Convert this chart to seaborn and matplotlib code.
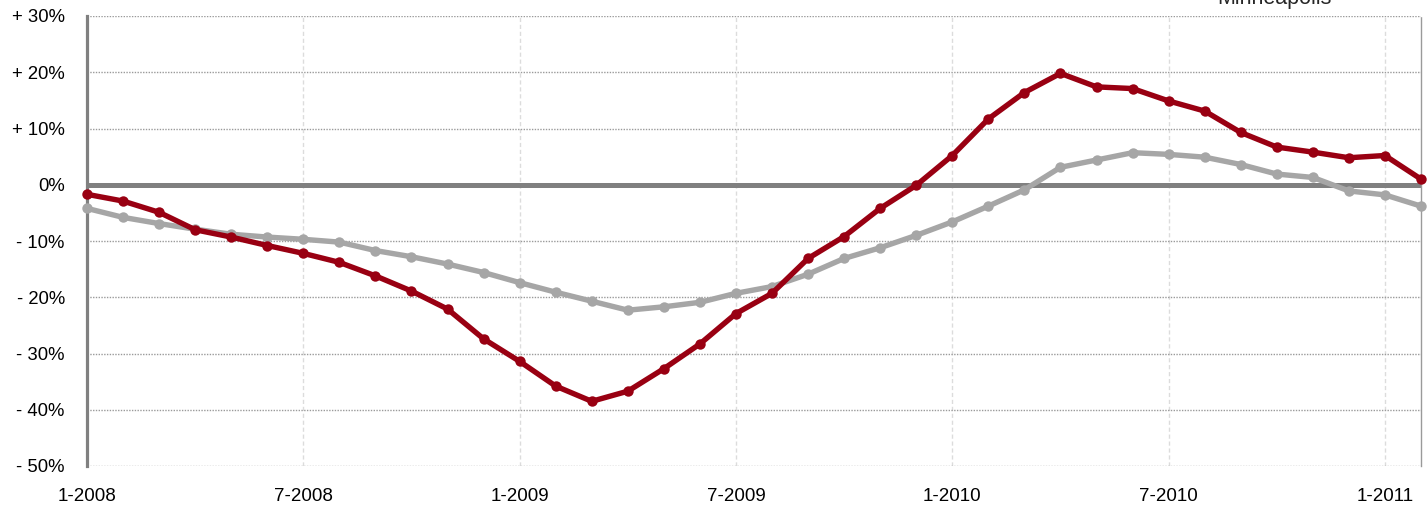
import pandas as pd
import matplotlib.pyplot as plt
import seaborn as sns

# Monthly change, Jan 2008 .. Feb 2011 (percent)
months = list(range(38))
minneapolis = [-1.7, -2.9, -4.9, -8.0, -9.3, -10.8, -12.2, -13.8, -16.2, -18.9,
               -22.1, -27.4, -31.4, -35.8, -38.5, -36.7, -32.7, -28.3, -22.9, -19.3,
               -13.1, -9.2, -4.2, -0.1, 5.2, 11.7, 16.4, 19.8, 17.4, 17.1,
               14.9, 13.1, 9.3, 6.7, 5.8, 4.8, 5.2, 1.0]
composite = [-4.2, -5.8, -6.9, -7.9, -8.8, -9.3, -9.7, -10.2, -11.7, -12.8,
             -14.1, -15.6, -17.4, -19.1, -20.7, -22.3, -21.7, -20.9, -19.3, -18.1,
             -15.9, -13.1, -11.2, -9.0, -6.6, -3.8, -0.9, 3.1, 4.4, 5.7,
             5.4, 4.9, 3.6, 1.9, 1.3, -1.1, -1.8, -3.8]

tick_months = [0, 6, 12, 18, 24, 30, 36]
tick_labels = ['1-2008', '7-2008', '1-2009', '7-2009', '1-2010', '7-2010', '1-2011']
y_ticks = [30, 20, 10, 0, -10, -20, -30, -40, -50]
y_labels = ['+ 30%', '+ 20%', '+ 10%', '0%', '- 10%', '- 20%', '- 30%', '- 40%', '- 50%']

df = pd.DataFrame({
    'month': months * 2,
    'change': composite + minneapolis,
    'series': ['Composite'] * len(months) + ['Minneapolis'] * len(months),
})

sns.set_style('white')
plt.rcParams['font.family'] = ['Liberation Sans', 'DejaVu Sans']

fig = plt.figure(figsize=(14.28, 5.08), dpi=100)
ax = fig.add_axes([87 / 1428, 42 / 508, 1334 / 1428, 450 / 508])

sns.lineplot(data=df, x='month', y='change', hue='series',
             hue_order=['Composite', 'Minneapolis'],
             palette={'Composite': '#a6a6a6', 'Minneapolis': '#990012'},
             marker='o', markersize=7.5, markeredgewidth=0, linewidth=3.9,
             legend=False, ax=ax, clip_on=False, zorder=3)

ax.axhline(0, color='#808080', lw=3.6, zorder=2)

ax.set_xlim(0, 37)
ax.set_ylim(-50, 30)
ax.set_xticks(tick_months)
ax.set_xticklabels(tick_labels, fontsize=13.5)
ax.set_yticks(y_ticks)
ax.set_yticklabels(y_labels, fontsize=13.3)
ax.set_xlabel('')
ax.set_ylabel('')

ax.yaxis.grid(True, color='#9a9a9a', linestyle=(0, (1, 1)), lw=1, zorder=0)
ax.xaxis.grid(True, color='#dcdcdc', linestyle=(0, (3, 2)), lw=1, zorder=0)
ax.set_axisbelow(True)

for s in ['top', 'bottom']:
    ax.spines[s].set_visible(False)
ax.spines['right'].set_linestyle((0, (1, 1)))
ax.spines['right'].set_color('#9a9a9a')
ax.spines['right'].set_linewidth(1)
ax.spines['left'].set_color('#808080')
ax.spines['left'].set_linewidth(2.3)

ax.tick_params(axis='y', length=4, width=2, color='#808080', pad=12, labelcolor='black')
ax.tick_params(axis='x', length=0, pad=16, labelcolor='black')

# series label sits at the top edge, mostly outside the picture as in the source
fig.text(1274 / 1428, 1 - 4 / 508, 'Minneapolis', ha='center', va='baseline', fontsize=15.5)

fig.savefig('out.png', dpi=100)
